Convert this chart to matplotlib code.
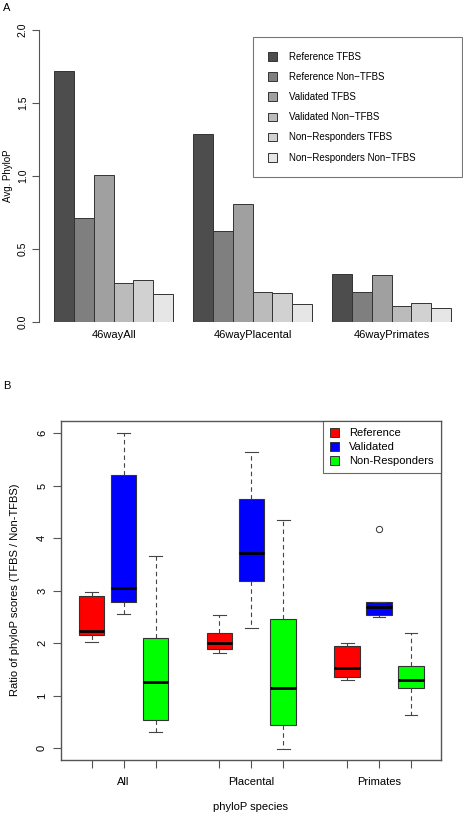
import matplotlib
matplotlib.use("Agg")
import matplotlib.pyplot as plt
from matplotlib.patches import Patch

plt.rcParams['font.family'] = ['Liberation Sans', 'DejaVu Sans']

# ---- panel A data ----
groups_a = ["46wayAll", "46wayPlacental", "46wayPrimates"]
series_a = ["Reference TFBS", "Reference Non\u2212TFBS", "Validated TFBS",
            "Validated Non\u2212TFBS", "Non\u2212Responders TFBS",
            "Non\u2212Responders Non\u2212TFBS"]
grays_a = ["#4D4D4D", "#7F7F7F", "#A0A0A0", "#BBBBBB", "#D1D1D1", "#E6E6E6"]
avg_phylop = [
    [1.72, 0.71, 1.005, 0.265, 0.29, 0.19],   # 46wayAll
    [1.29, 0.62, 0.805, 0.205, 0.198, 0.125],  # 46wayPlacental
    [0.33, 0.205, 0.32, 0.108, 0.13, 0.095],   # 46wayPrimates
]

# ---- panel B data ----
groups_b = ["All", "Placental", "Primates"]
classes_b = ["Reference", "Validated", "Non-Responders"]
colors_b = ["#FF0000", "#0000FF", "#00FF00"]
# per group, per class: whisker low, q1, median, q3, whisker high
whislo = [[2.02, 2.56, 0.31], [1.82, 2.30, -0.01], [1.30, 2.51, 0.63]]
q1 = [[2.16, 2.79, 0.53], [1.90, 3.18, 0.44], [1.36, 2.54, 1.14]]
med = [[2.24, 3.05, 1.27], [2.00, 3.72, 1.14], [1.53, 2.69, 1.30]]
q3 = [[2.91, 5.20, 2.10], [2.19, 4.74, 2.47], [1.95, 2.79, 1.57]]
whishi = [[2.97, 6.00, 3.66], [2.53, 5.64, 4.34], [2.01, 2.79, 2.19]]
fliers = [[[], [], []], [[], [], []], [[], [4.18], []]]

W, H = 464, 816
fig = plt.figure(figsize=(W / 100, H / 100), dpi=100)


def frac(x0, y0, x1, y1):
    # pixel box (top-left origin) -> figure fractions
    return [x0 / W, 1 - y1 / H, (x1 - x0) / W, (y1 - y0) / H]


# ================= Panel A =================
ax = fig.add_axes(frac(39, 30, 464, 322))
for g, vals in enumerate(avg_phylop):
    for i, v in enumerate(vals):
        ax.bar(1 + g * 7 + i, v, width=1, align='edge', color=grays_a[i],
               edgecolor='#333333', linewidth=0.7)
ax.set_xlim(0.244, 21.65)
ax.set_ylim(0, 2.0)
for s in ['top', 'right', 'bottom']:
    ax.spines[s].set_visible(False)
ax.spines['left'].set_color('#555555')
ax.spines['left'].set_linewidth(0.8)
ax.set_yticks([0, 0.5, 1.0, 1.5, 2.0])
ax.set_yticklabels(["0.0", "0.5", "1.0", "1.5", "2.0"], rotation=90, va='center')
ax.tick_params(axis='y', labelsize=7.5, length=5, width=0.8, color='#555555', pad=3)
ax.set_xticks([1 + g * 7 + 3 for g in range(3)])
ax.set_xticklabels(groups_a)
ax.tick_params(axis='x', labelsize=8, length=0, pad=6)

# legend box spans a fixed pixel box, entries packed left (R style)
handles = [Patch(facecolor=c, edgecolor='#333333', linewidth=0.7) for c in grays_a]
leg = ax.legend(handles, series_a, loc='upper left', mode='expand',
                bbox_to_anchor=frac(253, 37, 462, 179), bbox_transform=fig.transFigure,
                fontsize=7, frameon=True, fancybox=False, borderpad=1.5,
                labelspacing=1.05, handlelength=1.0, handleheight=1.0,
                handletextpad=1.2, borderaxespad=0)
leg.get_frame().set_edgecolor('#555555')
leg.get_frame().set_linewidth(0.8)

fig.text(8 / W, 1 - 176 / H, "Avg. PhyloP", rotation=90, fontsize=7,
         ha='center', va='center')
fig.text(7 / W, 1 - 8 / H, "A", fontsize=8, ha='center', va='center')

# ================= Panel B =================
bx = fig.add_axes(frac(61, 421, 441, 760))
stats, positions, face = [], [], []
for g in range(3):
    for c in range(3):
        stats.append(dict(whislo=whislo[g][c], q1=q1[g][c], med=med[g][c],
                          q3=q3[g][c], whishi=whishi[g][c], fliers=fliers[g][c]))
        positions.append(1 + g * 4 + c)
        face.append(colors_b[c])

bp = bx.bxp(stats, positions=positions, widths=0.8, patch_artist=True,
            capwidths=0.4,
            boxprops=dict(edgecolor='#333333', linewidth=0.8),
            medianprops=dict(color='black', linewidth=2.0),
            whiskerprops=dict(color='#444444', linewidth=0.8, linestyle=(0, (4, 3))),
            capprops=dict(color='#444444', linewidth=0.8),
            flierprops=dict(marker='o', markersize=4.5, markerfacecolor='none',
                            markeredgecolor='#333333', markeredgewidth=0.7))
for patch, c in zip(bp['boxes'], face):
    patch.set_facecolor(c)

bx.set_xlim(0.04, 11.94)
bx.set_ylim(-0.223, 6.234)
for s in bx.spines.values():
    s.set_color('#555555')
    s.set_linewidth(1.0)
bx.set_yticks(range(0, 7))
bx.set_yticklabels([str(v) for v in range(0, 7)], rotation=90, va='center')
bx.tick_params(axis='y', labelsize=8, length=6, width=0.8, color='#555555', pad=4)
bx.set_xticks(positions)
bx.set_xticklabels(["" if i % 3 != 1 else groups_b[i // 3] for i in range(9)])
bx.tick_params(axis='x', labelsize=8, length=6, width=0.8, color='#555555', pad=6)

handles_b = [Patch(facecolor=c, edgecolor='#333333', linewidth=0.7) for c in colors_b]
leg_b = bx.legend(handles_b, classes_b, loc='upper right', fontsize=8,
                  frameon=True, fancybox=False, borderpad=0.65,
                  labelspacing=0.34, handlelength=0.8, handleheight=0.8,
                  handletextpad=0.9, borderaxespad=0)
leg_b.get_frame().set_edgecolor('#444444')
leg_b.get_frame().set_linewidth(0.8)

fig.text(251 / W, 1 - 807 / H, "phyloP species", fontsize=8, ha='center', va='center')
fig.text(15 / W, 1 - 590 / H, "Ratio of phyloP scores (TFBS / Non-TFBS)", rotation=90,
         fontsize=8, ha='center', va='center')
fig.text(7 / W, 1 - 386 / H, "B", fontsize=8, ha='center', va='center')

fig.savefig("out.png", dpi=100, facecolor='white')
